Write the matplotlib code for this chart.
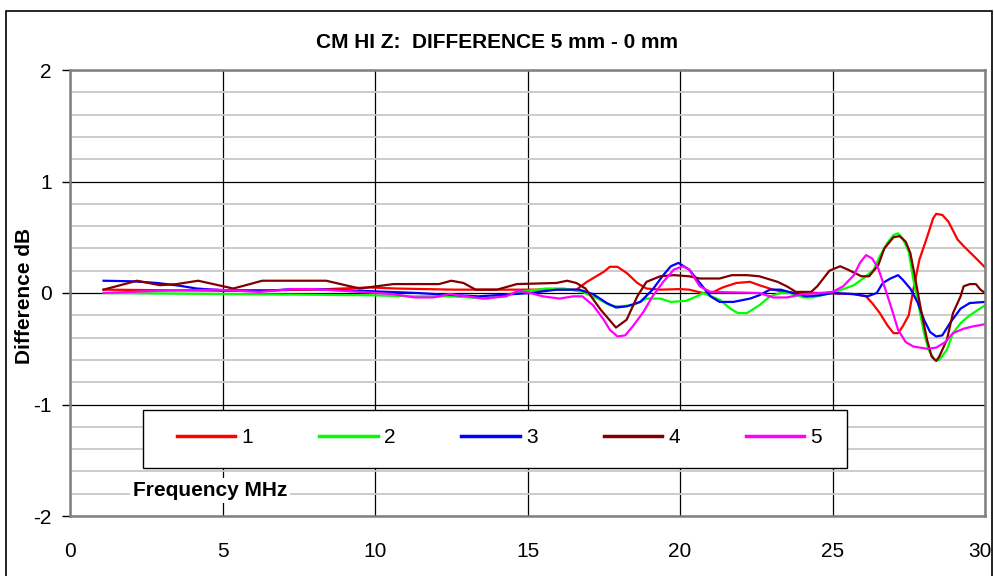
import matplotlib
matplotlib.use("Agg")
import matplotlib.pyplot as plt
from matplotlib.patches import Rectangle
from matplotlib.ticker import MultipleLocator
from matplotlib.transforms import ScaledTranslation

plt.rcParams['font.family'] = ['Liberation Sans', 'DejaVu Sans']

# Series (frequency in MHz, difference in dB)
f1 = [1.1, 5.0, 8.0, 9.8, 10.7, 12.6, 14.75, 16.6, 16.95, 17.5,
      17.7, 17.95, 18.25, 18.6, 18.9, 19.35, 20.0, 20.3, 20.75, 21.1,
      21.4, 21.85, 22.3, 22.6, 23.05, 23.5, 24.6, 25.7, 26.1, 26.3,
      26.55, 26.8, 27.0, 27.15, 27.3, 27.5, 27.65, 27.85, 28.1, 28.3,
      28.4, 28.6, 28.8, 29.1, 29.3, 29.6, 30.0]
v1 = [0.03, 0.02, 0.03, 0.05, 0.04, 0.03, 0.03, 0.03, 0.10, 0.19,
      0.235, 0.235, 0.18, 0.09, 0.04, 0.03, 0.035, 0.03, 0.0, 0.01,
      0.05, 0.09, 0.10, 0.07, 0.03, 0.005, 0.0, -0.01, -0.03, -0.09,
      -0.18, -0.29, -0.36, -0.36, -0.30, -0.20, 0.03, 0.30, 0.50, 0.67,
      0.71, 0.70, 0.64, 0.48, 0.42, 0.34, 0.23]

f2 = [1.1, 9.8, 11.2, 12.5, 13.7, 14.75, 15.6, 16.2, 16.8, 17.3,
      17.7, 17.95, 18.45, 18.9, 19.35, 19.7, 20.2, 20.55, 20.75, 21.3,
      21.65, 21.9, 22.2, 22.6, 22.95, 23.3, 23.6, 24.05, 24.35, 24.8,
      25.0, 25.7, 26.1, 26.35, 26.55, 26.8, 27.0, 27.15, 27.3, 27.5,
      27.65, 27.85, 28.0, 28.15, 28.35, 28.5, 28.75, 28.95, 29.2, 29.5,
      30.0]
v2 = [0.0, -0.02, -0.03, -0.03, -0.05, 0.01, 0.04, 0.04, 0.01, -0.05,
      -0.11, -0.12, -0.11, -0.05, -0.05, -0.08, -0.07, -0.03, 0.0, -0.06,
      -0.14, -0.18, -0.18, -0.11, -0.03, 0.0, 0.0, -0.04, -0.04, -0.01,
      0.0, 0.07, 0.15, 0.21, 0.33, 0.45, 0.52, 0.535, 0.49, 0.37,
      0.12, -0.15, -0.36, -0.51, -0.60, -0.60, -0.51, -0.36, -0.27, -0.20,
      -0.11]

f3 = [1.1, 2.05, 2.85, 3.6, 4.15, 5.0, 6.5, 7.3, 8.0, 8.4,
      9.5, 11.4, 12.0, 13.4, 15.1, 15.95, 16.7, 17.15, 17.6, 17.9,
      18.25, 18.7, 19.1, 19.45, 19.7, 19.95, 20.3, 20.65, 21.0, 21.3,
      21.75, 22.3, 22.6, 22.95, 23.3, 23.7, 24.15, 24.6, 25.0, 25.7,
      26.15, 26.45, 26.65, 26.9, 27.15, 27.3, 27.55, 27.8, 28.0, 28.2,
      28.4, 28.6, 28.85, 29.2, 29.5, 30.0]
v3 = [0.11, 0.105, 0.09, 0.065, 0.04, 0.025, 0.02, 0.035, 0.035, 0.03,
      0.02, 0.0, -0.01, -0.03, 0.0, 0.03, 0.03, -0.01, -0.09, -0.13,
      -0.12, -0.08, 0.03, 0.16, 0.24, 0.27, 0.21, 0.09, -0.03, -0.08,
      -0.08, -0.05, -0.02, 0.03, 0.03, 0.0, -0.03, -0.02, 0.0, -0.01,
      -0.03, 0.0, 0.09, 0.13, 0.16, 0.12, 0.04, -0.09, -0.24, -0.35,
      -0.39, -0.38, -0.27, -0.14, -0.09, -0.08]

f4 = [1.1, 2.2, 2.95, 3.5, 4.2, 4.7, 5.35, 5.9, 6.3, 8.4,
      9.5, 10.05, 10.6, 12.1, 12.5, 12.9, 13.3, 14.0, 14.65, 15.95,
      16.3, 16.6, 16.9, 17.4, 17.9, 18.25, 18.6, 18.9, 19.35, 19.8,
      20.3, 20.65, 21.3, 21.7, 22.2, 22.6, 23.2, 23.5, 23.8, 24.3,
      24.5, 24.9, 25.25, 25.5, 25.95, 26.2, 26.5, 26.7, 27.0, 27.2,
      27.4, 27.55, 27.7, 27.9, 28.1, 28.25, 28.4, 28.5, 28.75, 28.95,
      29.2, 29.3, 29.5, 29.7, 29.85, 30.0]
v4 = [0.03, 0.11, 0.07, 0.08, 0.11, 0.08, 0.04, 0.08, 0.11, 0.11,
      0.04, 0.06, 0.08, 0.08, 0.11, 0.09, 0.03, 0.03, 0.08, 0.09,
      0.11, 0.09, 0.04, -0.15, -0.31, -0.24, -0.03, 0.10, 0.15, 0.16,
      0.15, 0.13, 0.13, 0.16, 0.16, 0.15, 0.10, 0.06, 0.01, 0.01,
      0.06, 0.20, 0.24, 0.21, 0.15, 0.15, 0.25, 0.40, 0.50, 0.51,
      0.46, 0.36, 0.15, -0.15, -0.42, -0.57, -0.61, -0.57, -0.42, -0.18,
      -0.03, 0.06, 0.08, 0.08, 0.03, 0.0]

f5 = [1.1, 2.95, 4.8, 6.2, 7.3, 8.0, 9.5, 10.6, 11.3, 11.9,
      12.45, 13.0, 13.55, 14.3, 14.7, 15.1, 15.5, 16.05, 16.5, 16.8,
      17.15, 17.5, 17.7, 17.95, 18.2, 18.45, 18.8, 19.1, 19.45, 19.8,
      20.1, 20.3, 20.65, 21.0, 21.85, 22.6, 23.05, 23.5, 24.05, 24.6,
      25.0, 25.35, 25.7, 25.9, 26.1, 26.3, 26.5, 26.7, 26.95, 27.15,
      27.4, 27.65, 28.1, 28.4, 28.7, 28.95, 29.3, 29.6, 30.0]
v5 = [0.0, 0.02, 0.03, 0.01, 0.035, 0.035, 0.01, -0.01, -0.04, -0.04,
      -0.01, -0.03, -0.05, -0.03, 0.02, 0.0, -0.03, -0.05, -0.03, -0.03,
      -0.11, -0.24, -0.33, -0.39, -0.38, -0.30, -0.17, -0.03, 0.10, 0.21,
      0.24, 0.21, 0.06, 0.01, 0.005, 0.0, -0.04, -0.04, -0.01, 0.0,
      0.01, 0.06, 0.16, 0.27, 0.34, 0.31, 0.22, 0.06, -0.15, -0.33,
      -0.44, -0.48, -0.50, -0.49, -0.44, -0.36, -0.32, -0.30, -0.28]

labels = ['1', '2', '3', '4', '5']
colors = ['#ff0000', '#00ff00', '#0000ff', '#800000', '#ff00ff']
x_ticks = [0, 5, 10, 15, 20, 25, 30]
y_ticks = [-2, -1, 0, 1, 2]

fig = plt.figure(figsize=(9.94, 5.76), dpi=100)
fig.patches.append(Rectangle((6 / 994, -0.05), 986 / 994, 1.05 - 11 / 576,
                             transform=fig.transFigure, fill=False,
                             edgecolor='black', linewidth=1.2))

ax = fig.add_axes([70 / 994, 1 - 516 / 576, 915 / 994, 446 / 576])
ax.set_xlim(0, 30)
ax.set_ylim(-2, 2)

# grid: light minor lines every 0.2, dark major lines
ax.yaxis.set_minor_locator(MultipleLocator(0.2))
ax.grid(which='minor', axis='y', color='#c8c8c8', linewidth=1.3)
ax.grid(which='major', axis='both', color='black', linewidth=0.9)
ax.set_axisbelow(True)

for fx, vy, lab, c in zip([f1, f2, f3, f4, f5], [v1, v2, v3, v4, v5], labels, colors):
    ax.plot(fx, vy, color=c, linewidth=1.6, label=lab)

ax.set_xticks(x_ticks)
ax.set_yticks(y_ticks)
ax.set_xticklabels([str(t) for t in x_ticks], fontsize=15)
ax.set_yticklabels([str(t) for t in y_ticks], fontsize=15)
ax.tick_params(axis='x', length=0, pad=19)
ax.tick_params(axis='y', length=6, width=1, pad=7)
ax.tick_params(which='minor', length=0)
# last x label sits right at the figure edge, nudge it in a bit
last = ax.get_xticklabels()[-1]
last.set_transform(last.get_transform() + ScaledTranslation(-4 / 72, 0, fig.dpi_scale_trans))
for s in ax.spines.values():
    s.set_color('#808080')
    s.set_linewidth(1.8)

fig.text(497 / 994, 1 - 43 / 576, 'CM HI Z:  DIFFERENCE 5 mm - 0 mm',
         ha='center', va='center', fontsize=15, fontweight='bold')
fig.text(25 / 994, 1 - 296 / 576, 'Difference dB', rotation=90,
         ha='center', va='center', fontsize=15, fontweight='bold')
ax.text(2.05, -1.77, 'Frequency MHz', ha='left', va='center', fontsize=15,
        fontweight='bold', bbox=dict(facecolor='white', edgecolor='none', pad=2))

# legend box drawn separately so the entries can sit inset from its frame
ax.add_patch(Rectangle((0.08, 0.108), 0.769, 0.13, transform=ax.transAxes,
                       facecolor='white', edgecolor='black', linewidth=1.0, zorder=4))
leg = ax.legend(loc='center', bbox_to_anchor=(0.117, 0.145, 0.705, 0.06),
                mode='expand', ncol=5, fontsize=15, frameon=False,
                handlelength=2.8, handletextpad=0.3, borderpad=0,
                borderaxespad=0)
leg.set_zorder(5)
for h in leg.get_lines():
    h.set_linewidth(2.5)

fig.savefig('out.png', dpi=100)
